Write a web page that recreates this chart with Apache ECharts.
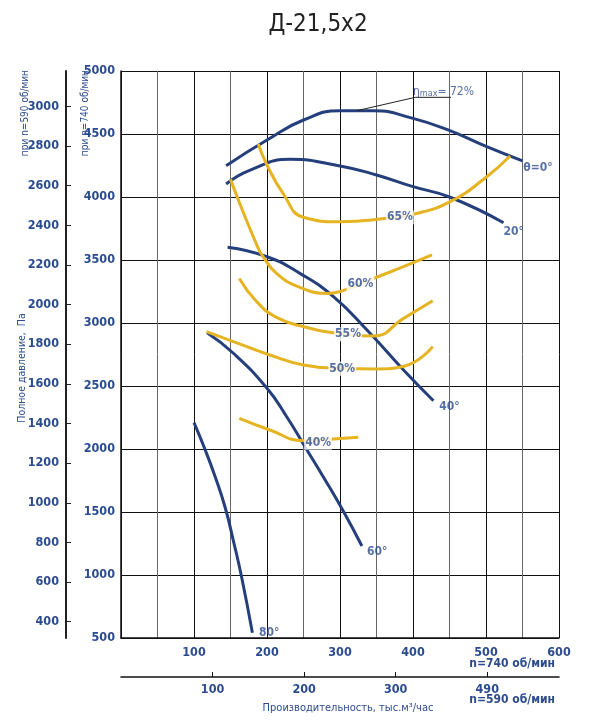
<!DOCTYPE html>
<html><head><meta charset="utf-8">
<script src="https://cdn.jsdelivr.net/npm/echarts@6/dist/echarts.min.js"></script>
<style>html,body{margin:0;padding:0;background:#fff}#c{width:591px;height:725px}</style>
</head><body><div id="c"></div>
<script>
// ---- data (n = 740 rpm: Q, thousand m3/h ; P, Pa) ----
const curve0  = [[144,4249],[200,4452],[250,4611],[300,4685],[346,4685],[400,4624],[448,4532],[501,4399],[550,4286]];
const curve20 = [[144,4103],[177,4214],[232,4299],[300,4246],[350,4175],[400,4082],[451,3998],[524,3796]];
const curve40 = [[146,3601],[200,3526],[245,3394],[291,3209],[337,2944],[387,2627],[428,2383]];
const curve60 = [[118,2923],[154,2760],[200,2482],[227,2256],[252,2018],[277,1780],[305,1502],[330,1230]];
const curve80 = [[100,2209],[115,1998],[129,1780],[143,1530],[154,1270],[165,990],[180,542]];
const eff65 = [[188,4421],[200,4254],[222,4029],[250,3839],[300,3804],[364,3831],[400,3862],[451,3963],[501,4161],[533,4325]];
const eff60 = [[150,4140],[168,3871],[188,3593],[193,3540],[213,3394],[245,3283],[284,3235],[309,3267],[343,3347],[387,3447],[426,3540]];
const eff55 = [[162,3354],[186,3169],[213,3045],[250,2971],[296,2918],[346,2897],[387,3037],[427,3177]];
const eff50 = [[117,2931],[154,2852],[204,2746],[250,2667],[300,2640],[350,2635],[389,2659],[427,2812]];
const eff40 = [[162,2243],[204,2151],[250,2066],[286,2077],[325,2093]];
const etaLeader = [[323,4685],[403,4791],[452,4791]];
const angleLabels = [[551,4230,'θ=0°'],[524,3725,'20°'],[436,2336,'40°'],[337,1180,'60°'],[189,542,'80°']];
const effLabels = [[382,3839,'65%'],[328,3310,'60%'],[311,2910,'55%'],[303,2637,'50%'],[270,2050,'40%']];
const etaLabel = [[400,4833,'72%']];
// axes
const pMin = 500, pMax = 5000, pStep = 500;
const qMin = 0, qMax = 600, qStep = 100;
const rpmRatio = 590 / 740;
const p590Ticks = [400,600,800,1000,1200,1400,1600,1800,2000,2200,2400,2600,2800,3000];
const q590Ticks = [100,200,300,400];
const q590Labels = ['100','200','300','490'];

const FONT = "'Liberation Sans Narrow','DejaVu Sans Condensed',sans-serif";
const BLUE_T = '#2c4b8e';
const BLUE = '#243f7c';
const YEL = '#e6b422';

const chart = echarts.init(document.getElementById('c'));
const lineS = (data, color, w) => ({
  type:'line', data, smooth:0.5, symbol:'none',
  lineStyle:{color, width:w}, z:3, silent:true
});
const labelStyle = {fontFamily:FONT, fontSize:12.5, fontWeight:'bold', color:BLUE_T, formatter:v=>String(v)};
chart.setOption({
  animation:false,
  grid:{left:121, right:32, top:71, bottom:87, containLabel:false},
  xAxis:[{
    type:'value', min:qMin, max:qMax, interval:qStep,
    axisLine:{show:true, onZero:false, lineStyle:{color:'#111', width:1.5}},
    axisTick:{show:false},
    axisLabel:{showMinLabel:false, margin:8, ...labelStyle},
    splitLine:{show:true, lineStyle:{color:'#111', width:1}},
    minorTick:{show:false, splitNumber:2},
    minorSplitLine:{show:true, lineStyle:{color:'#666', width:1}}
  },{
    type:'value', position:'bottom', offset:39, min:0, max:qMax*rpmRatio,
    axisLine:{show:true, onZero:false, lineStyle:{color:'#111', width:1.5}},
    axisTick:{show:true, inside:true, length:5, customValues:q590Ticks, lineStyle:{color:'#111', width:1}},
    axisLabel:{customValues:q590Ticks, margin:6, ...labelStyle,
      formatter:v => q590Labels[q590Ticks.indexOf(Math.round(v))] || ''},
    splitLine:{show:false}
  }],
  yAxis:[{
    type:'value', min:pMin, max:pMax, interval:pStep,
    axisLine:{show:true, onZero:false, lineStyle:{color:'#111', width:1.5}},
    axisTick:{show:false},
    axisLabel:{margin:6, ...labelStyle},
    splitLine:{show:true, lineStyle:{color:'#111', width:1}}
  },{
    type:'value', position:'left', offset:55, min:pMin*rpmRatio*rpmRatio, max:pMax*rpmRatio*rpmRatio,
    axisLine:{show:true, onZero:false, lineStyle:{color:'#222', width:2}},
    axisTick:{show:true, inside:true, length:5, customValues:p590Ticks, lineStyle:{color:'#222', width:1}},
    axisLabel:{customValues:p590Ticks, margin:7, ...labelStyle},
    splitLine:{show:false}
  }],
  series:[
    lineS(curve0, BLUE, 3), lineS(curve20, BLUE, 3), lineS(curve40, BLUE, 3),
    lineS(curve60, BLUE, 3), lineS(curve80, BLUE, 3),
    lineS(eff65, YEL, 3), lineS(eff60, YEL, 3), lineS(eff55, YEL, 3),
    lineS(eff50, YEL, 3), lineS(eff40, YEL, 3),
    {type:'line', data:etaLeader, symbol:'none', smooth:false, lineStyle:{color:'#222', width:1}, z:4, silent:true},
    {type:'scatter', data:angleLabels, symbolSize:0, z:6, silent:true,
      label:{show:true, position:'right', distance:0, formatter:p=>p.data[2], fontFamily:FONT, fontWeight:'bold', color:BLUE_T, fontSize:12}},
    {type:'scatter', data:effLabels, symbolSize:0, z:6, silent:true,
      label:{show:true, position:'inside', formatter:p=>p.data[2], fontFamily:FONT, fontWeight:'bold', color:BLUE_T, fontSize:12,
        backgroundColor:'#fff', padding:[1,1]}},
    {type:'scatter', data:etaLabel, symbolSize:0, z:6, silent:true,
      label:{show:true, position:'right', distance:0, formatter:p=>'{a|η}{b|max}{a|= '+p.data[2]+'}',
        rich:{a:{fontFamily:FONT, fontSize:12, color:BLUE_T}, b:{fontFamily:FONT, fontSize:9, color:BLUE_T, verticalAlign:'bottom', padding:[3,0,0,0]}}}}
  ],
  graphic:[
    {type:'text', x:318, y:25, style:{text:'Д-21,5x2', align:'center', verticalAlign:'middle', font:"24px "+FONT, fill:'#222'}},
    {type:'text', x:25, y:70, rotation:Math.PI/2, style:{text:'при n=590 об/мин', align:'right', verticalAlign:'middle', font:"10px "+FONT, fill:BLUE_T}},
    {type:'text', x:85, y:70, rotation:Math.PI/2, style:{text:'при n=740 об/мин', align:'right', verticalAlign:'middle', font:"10px "+FONT, fill:BLUE_T}},
    {type:'text', x:22, y:368, rotation:Math.PI/2, style:{text:'Полное давление,  Па', align:'center', verticalAlign:'middle', font:"10.5px "+FONT, fill:BLUE_T}},
    {type:'text', x:555, y:664, style:{text:'n=740 об/мин', align:'right', verticalAlign:'middle', font:"bold 12px "+FONT, fill:BLUE_T}},
    {type:'text', x:555, y:700, style:{text:'n=590 об/мин', align:'right', verticalAlign:'middle', font:"bold 12px "+FONT, fill:BLUE_T}},
    {type:'text', x:348, y:708, style:{text:'Производительность, тыс.м³/час', align:'center', verticalAlign:'middle', font:"11px "+FONT, fill:BLUE_T}}
  ]
});
</script></body></html>
